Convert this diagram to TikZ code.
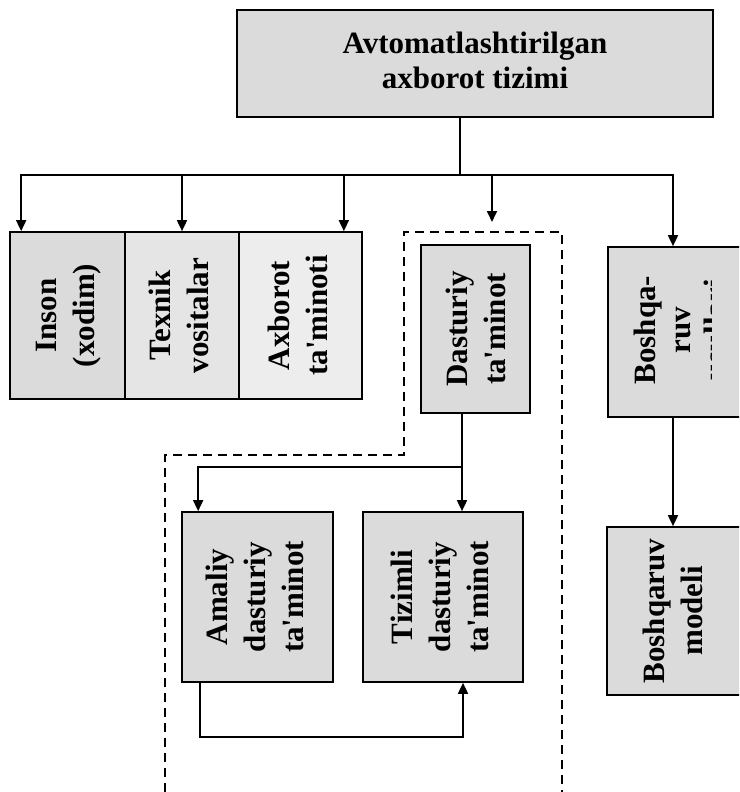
\documentclass[tikz,border=0pt]{standalone}
\usepackage{graphicx}
\usepackage{fontspec}
\setmainfont{Liberation Serif}
\usetikzlibrary{arrows.meta}

\definecolor{boxgray}{gray}{0.86}
\definecolor{boxlight}{gray}{0.90}
\definecolor{boxpale}{gray}{0.93}

% text set upright in a box, turned to read bottom to top
\newcommand{\vtext}[1]{\rotatebox{90}{\begin{tabular}{@{}c@{}}#1\end{tabular}}}
% straight apostrophe
\newcommand{\apos}{\textquotesingle}

\tikzset{
  box/.style={draw, line width=1.7pt, fill=boxgray, inner sep=0pt},
  arr/.style={-{Triangle[length=11pt,width=10pt]}, line width=1.7pt},
  link/.style={line width=1.7pt},
  frame/.style={line width=1.7pt, dash pattern=on 9pt off 6pt},
}

\begin{document}
\begin{tikzpicture}[x=1pt, y=-1pt, font=\fontsize{31}{38}\selectfont\bfseries]
\clip (0,0) rectangle (739,792);
\fill[white] (0,0) rectangle (739,792);

% top level system
\node[box, line width=2.6pt, minimum width=476, minimum height=107] (top) at (475,63.5)
  {\raisebox{-4pt}{\begin{tabular}{@{}c@{}}Avtomatlashtirilgan\\[-3pt]axborot tizimi\end{tabular}}};

% components
\node[box, minimum width=115, minimum height=167] (inson) at (67.5,315.5) {\vtext{Inson\\(xodim)}};
\node[box, fill=boxlight, minimum width=114, minimum height=167] (texnik) at (182,315.5) {\vtext{Texnik\\vositalar}};
\node[box, fill=boxpale, minimum width=123, minimum height=167] (axb) at (300.5,315.5) {\vtext{Axborot\\ta\apos minoti}\hspace{18pt}};
\node[box, minimum width=109, minimum height=168] (dast) at (475.5,329) {\hspace{6pt}\vtext{Dasturiy\\ta\apos minot}};
\node[box, minimum width=137, minimum height=170] (bosh) at (676.5,332) {};
\begin{scope}
  \clip (bosh.north west) rectangle (711,417);
  \node[inner sep=0pt] (boshtext) at (683,330) {\vtext{Boshqa-\\[-3pt]ruv\\[-3pt]usullari}};
\end{scope}
\node[box, minimum width=151, minimum height=170] (amal) at (257.5,597) {\vtext{Amaliy\\dasturiy\\ta\apos minot}};
\node[box, minimum width=160, minimum height=170] (tiz) at (443,597) {\vtext{Tizimli\\dasturiy\\ta\apos minot}};
\node[box, minimum width=138, minimum height=168] (model) at (676,611) {\vtext{Boshqaruv\\modeli}\hspace{22pt}};

% software boundary
\coordinate (fa) at (165,792);
\coordinate (fb) at (165,455);
\coordinate (fc) at (404,455);
\coordinate (fd) at (404,232);
\coordinate (fe) at (562,232);
\coordinate (ff) at (562,792);
\draw[frame] (fa) -- (fb) -- (fc) -- (fd) -- (fe) -- (ff);

% distribution bus
\coordinate (bus) at (460,175);
\coordinate (dtip) at (492,222);
\draw[link] (top.south -| bus) -- (bus);
\draw[arr] (bus) -| ([xshift=12]inson.north west);
\draw[arr] (bus) -| (texnik.north);
\draw[arr] (bus) -| ([xshift=-19]axb.north east);
\draw[arr] (bus) -| (dtip);
\draw[arr] (bus) -| ([xshift=-3.5]bosh.north);

% software branches
\coordinate (split) at (462,467);
\draw[link] (dast.south -| split) -- (split);
\draw[arr] (split) -- (tiz.north -| split);
\draw[arr] (split) -| ([xshift=17]amal.north west);

% feedback loop
\coordinate (loop) at (463,737);
\draw[arr] ([xshift=19]amal.south west) |- (loop) -- (tiz.south -| loop);

% control chain
\draw[arr] ([xshift=-3.5]bosh.south) -- ([xshift=-3]model.north);
\end{tikzpicture}
\end{document}
